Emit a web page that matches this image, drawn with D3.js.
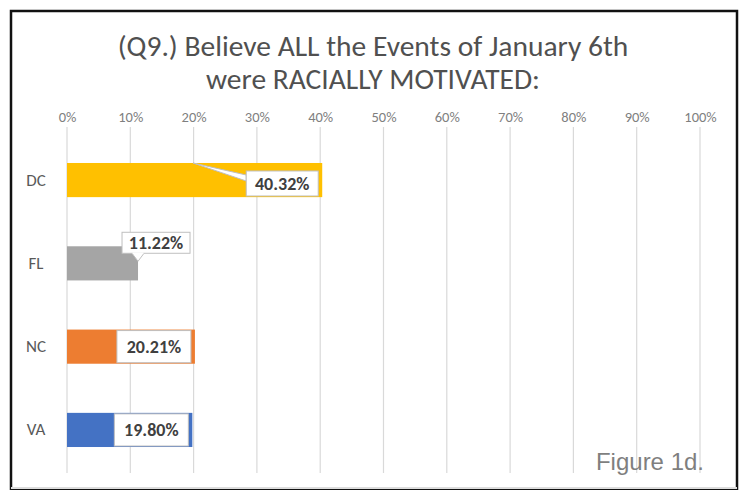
<!DOCTYPE html>
<html><head><meta charset="utf-8">
<script src="https://cdn.jsdelivr.net/npm/d3@7"></script>
<style>body{margin:0;background:#fff}svg{display:block}</style>
</head><body>
<script>
const categories = ["DC","FL","NC","VA"];
const values = [40.32, 11.22, 20.21, 19.80];
const colors = ["#FFC000","#A5A5A5","#ED7D31","#4472C4"];
const tickValues = [0,10,20,30,40,50,60,70,80,90,100];
const titleLines = ["(Q9.) Believe ALL the Events of January 6th","were RACIALLY MOTIVATED:"];

const W=748,H=490;
const svg=d3.select("body").append("svg").attr("width",W).attr("height",H);
svg.append("rect").attr("width",W).attr("height",H).attr("fill","#fff");
svg.append("rect").attr("x",11).attr("y",11).attr("width",726).attr("height",478)
  .attr("fill","#fff").attr("stroke","#111").attr("stroke-width",2.5);
svg.append("line").attr("x1",11).attr("x2",737).attr("y1",488).attr("y2",488).attr("stroke","#ddd").attr("stroke-width",2);

const font="Carlito, Calibri, Lato, sans-serif";
svg.selectAll("text.title").data(titleLines).join("text").attr("class","title")
  .attr("x",373).attr("y",(d,i)=>56+i*33).attr("text-anchor","middle")
  .attr("font-family",font).attr("font-size",29.5).attr("fill","#505050").text(d=>d);

const x=d3.scaleLinear().domain([0,100]).range([67,700]);
const y=d3.scaleBand().domain(categories).range([138,472]).paddingInner(0.59).paddingOuter(0.3);

svg.append("g").selectAll("line").data(tickValues).join("line")
  .attr("x1",d=>x(d)).attr("x2",d=>x(d)).attr("y1",127).attr("y2",473)
  .attr("stroke","#d9d9d9").attr("stroke-width",1.2);

const xAxis=d3.axisTop(x).tickValues(tickValues).tickFormat(d=>d+"%").tickSize(0).tickPadding(0);
const gx=svg.append("g").attr("transform","translate(0,122)").call(xAxis);
gx.select(".domain").remove();
gx.selectAll("text").attr("font-family",font).attr("font-size",14.5).attr("fill","#7f7f7f");

const yAxis=d3.axisLeft(y).tickSize(0).tickPadding(0);
const gy=svg.append("g").attr("transform","translate(46,0)").call(yAxis);
gy.select(".domain").remove();
gy.selectAll("text").attr("font-family",font).attr("font-size",17).attr("fill","#595959").attr("text-anchor","middle").attr("dx",-10);

const data=categories.map((c,i)=>({c,v:values[i],col:colors[i]}));
svg.append("g").selectAll("rect").data(data).join("rect")
  .attr("x",x(0)).attr("y",d=>y(d.c)).attr("width",d=>x(d.v)-x(0)).attr("height",y.bandwidth())
  .attr("fill",d=>d.col);

data.forEach(d=>{
  const g=svg.append("g");
  const bx0=x(0), bx1=x(d.v), by=y(d.c), bh=y.bandwidth();
  let lx,ly,w,h;
  if(d.c==="DC"){
    lx=bx1-76; ly=by+8; w=72; h=25;
    g.append("path").attr("d",`M${bx0+126},${by}L${lx},${ly+4}L${lx},${ly+10}Z`)
      .attr("fill","#fff").attr("stroke","#bfbfbf").attr("stroke-width",1);
  } else if(d.c==="FL"){
    lx=bx1-16; ly=by-14; w=68; h=21;
    g.append("path").attr("d",`M${lx+10},${ly+h}L${lx+16},${by+15}L${lx+22},${ly+h}Z`)
      .attr("fill","#fff").attr("stroke","#bfbfbf").attr("stroke-width",1);
  } else {
    lx=bx1-78; ly=by+1; w=74; h=bh-2;
  }
  g.append("rect").attr("x",lx).attr("y",ly).attr("width",w).attr("height",h)
    .attr("fill","#fff").attr("stroke","#bfbfbf").attr("stroke-width",1);
  if(d.c==="FL"){
    g.append("line").attr("x1",lx+10.5).attr("x2",lx+21.5).attr("y1",ly+h).attr("y2",ly+h).attr("stroke","#fff").attr("stroke-width",1.5);
  }
  g.append("text").attr("x",lx+w/2).attr("y",ly+h/2).attr("dy","0.36em").attr("text-anchor","middle")
    .attr("font-family",font).attr("font-weight","bold").attr("font-size",18).attr("fill","#404040")
    .text(d.v.toFixed(2)+"%");
});

svg.append("text").attr("x",704).attr("y",470).attr("text-anchor","end")
  .attr("font-family","Liberation Sans, Arial, sans-serif").attr("font-size",24).attr("fill","#7f7f7f").text("Figure 1d.");
</script>
</body></html>
